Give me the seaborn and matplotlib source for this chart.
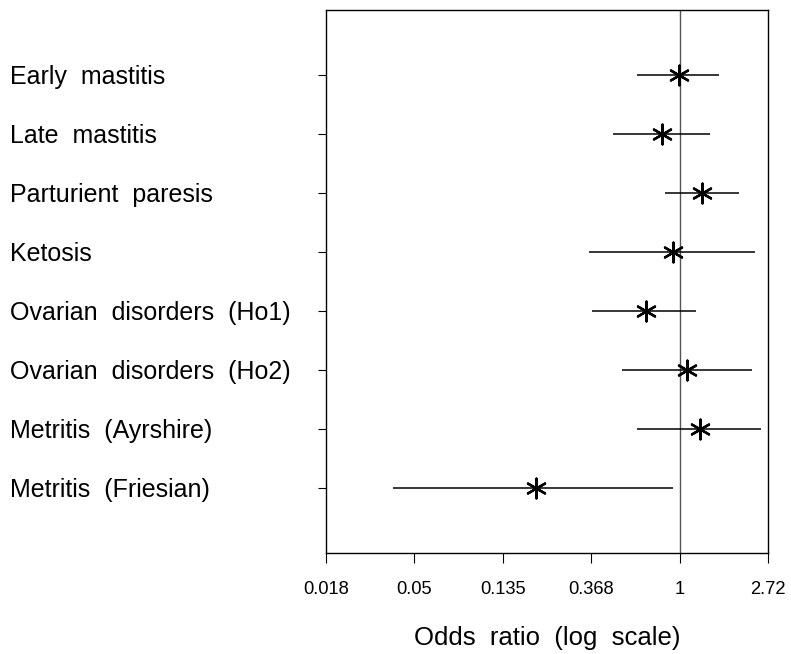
import numpy as np
import pandas as pd
import matplotlib
matplotlib.use("Agg")
import matplotlib.pyplot as plt
import seaborn as sns

conditions = ["Early  mastitis", "Late  mastitis", "Parturient  paresis", "Ketosis",
              "Ovarian  disorders  (Ho1)", "Ovarian  disorders  (Ho2)",
              "Metritis  (Ayrshire)", "Metritis  (Friesian)"]
odds_ratio = [0.99, 0.82, 1.29, 0.93, 0.68, 1.09, 1.26, 0.197]
ci_lower = [0.62, 0.47, 0.85, 0.36, 0.37, 0.52, 0.62, 0.039]
ci_upper = [1.56, 1.40, 1.95, 2.34, 1.20, 2.26, 2.51, 0.93]
tick_values = [np.exp(-4), np.exp(-3), np.exp(-2), np.exp(-1), 1.0, np.exp(1)]
tick_labels = ["0.018", "0.05", "0.135", "0.368", "1", "2.72"]

df = pd.DataFrame({"cond": conditions, "or": odds_ratio, "lo": ci_lower,
                   "hi": ci_upper, "pos": np.arange(len(conditions))})

sns.set_style("white")
plt.rcParams["font.family"] = ["Liberation Sans", "DejaVu Sans"]
plt.rcParams["text.color"] = "black"
plt.rcParams["axes.labelcolor"] = "black"
plt.rcParams["xtick.color"] = "black"
plt.rcParams["ytick.color"] = "black"

fig = plt.figure(figsize=(7.91, 6.54), dpi=100)
ax = fig.add_axes([325.7 / 791, 1 - 553.3 / 654, (768.3 - 325.7) / 791, (553.3 - 10) / 654])

ax.axvline(1.0, color="#555555", lw=1.0, zorder=1)
ax.hlines(df["pos"], df["lo"], df["hi"], color="black", lw=1.1, zorder=2)
sns.scatterplot(data=df, x="or", y="pos", marker=(6, 2, 0), s=200, color="black",
                edgecolor="black", linewidth=1.7, ax=ax, zorder=3, legend=False)

ax.set_xscale("log")
ax.set_xlim(np.exp(-4), np.exp(1))
ax.set_ylim(len(conditions) - 1 + 1.107, -1.10)
ax.set_xticks(tick_values)
ax.set_xticklabels(tick_labels, fontsize=13.2)
ax.minorticks_off()
ax.set_yticks(df["pos"])
ax.set_yticklabels(df["cond"], fontsize=18, ha="left")
ax.tick_params(axis="y", length=5.5, width=0.8, pad=222, left=True, colors="black")
ax.tick_params(axis="x", length=7.2, width=0.8, pad=13, bottom=True, colors="black")
ax.set_xlabel("Odds  ratio  (log  scale)", fontsize=18.5, labelpad=20)
ax.set_ylabel("")
for sp in ax.spines.values():
    sp.set_visible(True)
    sp.set_color("black")
    sp.set_linewidth(1.0)

fig.savefig("out.png", dpi=100)
